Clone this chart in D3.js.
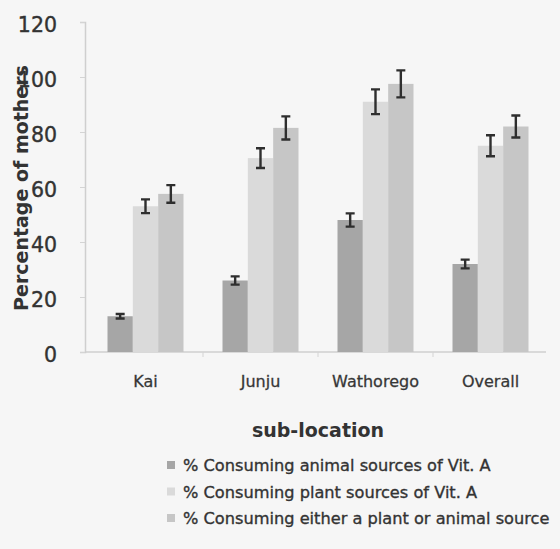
<!DOCTYPE html>
<html>
<head>
  <meta charset="UTF-8">
  <style>
    body { margin: 0; background: #f6f6f6; }
    svg { display: block; }
    text { font-family: "DejaVu Sans", sans-serif; fill: #333; }
  </style>
</head>
<body>
  <svg width="560" height="549"></svg>
  <script src="https://d3js.org/d3.v7.min.js"></script>
  <script>
    // data
    const categories = ['Kai', 'Junju', 'Wathorego', 'Overall'];
    const seriesNames = [
      '% Consuming animal sources of Vit. A',
      '% Consuming plant sources of Vit. A',
      '% Consuming either a plant or animal source'
    ];
    const animal = [13, 26, 48, 32];
    const plant = [53, 70.5, 91, 75];
    const either = [57.5, 81.5, 97.5, 82];
    const animalErr = [0.8, 1.5, 2.4, 1.6];
    const plantErr = [2.5, 3.6, 4.5, 3.8];
    const eitherErr = [3.2, 4.2, 4.9, 4.0];
    const yTicks = [0, 20, 40, 60, 80, 100, 120];
    const colors = ['#a6a6a6', '#dadada', '#c6c6c6'];

    const series = [animal, plant, either];
    const errs = [animalErr, plantErr, eitherErr];

    const svg = d3.select('svg');
    const plotLeft = 85, plotRight = 546, plotTop = 22, plotBottom = 352;

    const x = d3.scaleBand().domain(categories).range([88, 548]);
    const xs = d3.scaleBand().domain(d3.range(3)).range([0, 76]);
    const y = d3.scaleLinear().domain([0, 120]).range([plotBottom, plotTop]);
    const groupOff = (x.bandwidth() - 76) / 2;

    // axes
    const yAxis = svg.append('g').attr('transform', `translate(${plotLeft},0)`)
      .call(d3.axisLeft(y).tickValues(yTicks).tickSize(5).tickPadding(23));
    yAxis.select('.domain').attr('stroke', '#cfcfcf').attr('stroke-width', 1.5);
    yAxis.selectAll('.tick line').attr('stroke', '#d4d4d4');
    yAxis.selectAll('.tick text').attr('font-size', 20.5)
      .attr('fill', '#333').attr('stroke', '#333').attr('stroke-width', 0.4)
      .attr('dy', '0.45em');

    const xAxis = svg.append('g').attr('transform', `translate(0,${plotBottom})`)
      .call(d3.axisBottom(x).tickSize(0).tickPadding(24));
    xAxis.select('.domain').attr('stroke', '#cfcfcf').attr('stroke-width', 1.5)
      .attr('d', `M${plotLeft},0H${plotRight}`);
    xAxis.selectAll('.tick text').attr('font-size', 16)
      .attr('fill', '#444').attr('stroke', '#444').attr('stroke-width', 0.3);
    // boundary ticks between groups
    xAxis.selectAll('.sep').data(categories.slice(1)).enter().append('line')
      .attr('x1', d => x(d)).attr('x2', d => x(d)).attr('y1', 0).attr('y2', 5)
      .attr('stroke', '#d4d4d4');

    // bars
    const groups = svg.append('g').selectAll('g').data(categories).enter().append('g')
      .attr('transform', d => `translate(${x(d) + groupOff},0)`);

    groups.each(function (cat, ci) {
      const g = d3.select(this);
      series.forEach((vals, si) => {
        const bx = xs(si), bw = xs.bandwidth();
        g.append('rect')
          .attr('x', bx).attr('width', bw)
          .attr('y', y(vals[ci])).attr('height', plotBottom - y(vals[ci]))
          .attr('fill', colors[si]);
        const cx = bx + bw / 2;
        const hi = y(vals[ci] + errs[si][ci]), lo = y(vals[ci] - errs[si][ci]);
        g.append('path')
          .attr('d', `M${cx},${hi}V${lo}M${cx - 4.5},${hi}H${cx + 4.5}M${cx - 4.5},${lo}H${cx + 4.5}`)
          .attr('stroke', '#2e2e2e').attr('stroke-width', 2.4).attr('fill', 'none');
      });
    });

    // axis titles
    svg.append('text')
      .attr('transform', 'translate(28,188) rotate(-90)')
      .attr('text-anchor', 'middle')
      .attr('font-size', 19).attr('font-weight', 700)
      .text('Percentage of mothers');

    svg.append('text')
      .attr('x', 318).attr('y', 437)
      .attr('text-anchor', 'middle')
      .attr('font-size', 19).attr('font-weight', 700)
      .text('sub-location');

    // legend
    const legend = svg.append('g').selectAll('g').data(seriesNames).enter().append('g')
      .attr('transform', (d, i) => `translate(167,${465 + i * 26.5})`);
    legend.append('rect').attr('x', 0).attr('y', -4).attr('width', 8).attr('height', 8)
      .attr('fill', (d, i) => colors[i]);
    legend.append('text').attr('x', 16).attr('y', 6)
      .attr('font-size', 16.2).attr('fill', '#333').attr('stroke', '#333').attr('stroke-width', 0.35)
      .text(d => d);
  </script>
</body>
</html>
